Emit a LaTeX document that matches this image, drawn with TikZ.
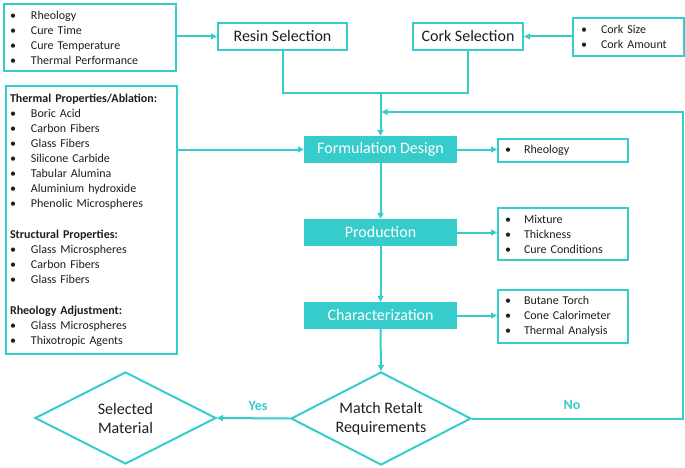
\documentclass[tikz,border=0pt]{standalone}
\usepackage{fontspec}
\setmainfont{Carlito}
\usetikzlibrary{shapes.geometric,arrows.meta}
\definecolor{teal}{RGB}{54,204,204}
\definecolor{txt}{RGB}{30,30,30}
\newcommand{\itm}[2][21pt]{\makebox[#1][l]{\textbullet}#2}
\tikzset{
  box/.style={draw=teal, line width=2pt, fill=white, inner sep=0pt, text=txt},
  listbox/.style={box, anchor=north west, align=left, inner ysep=0pt,
    font=\fontsize{12}{15}\selectfont},
  selbox/.style={box, minimum height=27pt, font=\fontsize{16}{19}\selectfont},
  tealbox/.style={fill=teal, draw=none, text=white, minimum width=153pt,
    minimum height=27pt, inner sep=0pt, font=\fontsize{16}{19}\selectfont},
  dia/.style={diamond, aspect=2, draw=teal, line width=2pt, inner sep=0pt,
    text=txt, align=center, font=\fontsize{16}{19}\selectfont},
  conn/.style={draw=teal, line width=2pt},
  arr/.style={conn, -{Triangle[length=6pt,width=6pt]}},
  lbl/.style={text=teal, font=\fontsize{14}{17}\selectfont\bfseries}
}
\begin{document}
\begin{tikzpicture}[x=1pt,y=-1pt]
\useasboundingbox (0,0) rectangle (685,468);
% top left list
\node[listbox, inner xsep=6pt, text width=160pt, minimum height=67pt] (tl) at (3,3)
  {\itm{Rheology}\\ \itm{Cure Time}\\ \itm{Cure Temperature}\\ \itm{Thermal Performance}};
% selections
\node[selbox, minimum width=129pt] (resin) at (282.5,36.5) {Resin Selection};
\node[selbox, minimum width=110pt] (cork) at (468,36.5) {Cork Selection};
\node[listbox, inner xsep=8pt, text width=95pt, minimum height=38pt] (cl) at (572,17)
  {\itm[20pt]{Cork Size}\\ \itm[20pt]{Cork Amount}};
% big left list
\node[listbox, inner xsep=4pt, text width=163pt, minimum height=268pt] (big) at (5,85)
  {\textbf{Thermal Properties/Ablation:}\\ \itm{Boric Acid}\\ \itm{Carbon Fibers}\\
   \itm{Glass Fibers}\\ \itm{Silicone Carbide}\\ \itm{Tabular Alumina}\\
   \itm{Aluminium hydroxide}\\ \itm{Phenolic Microspheres}\\[16pt]
   \textbf{Structural Properties:}\\ \itm{Glass Microspheres}\\ \itm{Carbon Fibers}\\
   \itm{Glass Fibers}\\[16pt]
   \textbf{Rheology Adjustment:}\\ \itm{Glass Microspheres}\\ \itm{Thixotropic Agents}};
% teal process boxes
\node[tealbox] (form) at (380.5,149.5) {Formulation Design};
\node[tealbox] (prod) at (380.5,232.5) {Production};
\node[tealbox] (char) at (380.5,315.5) {Characterization};
% right lists
\node[listbox, inner xsep=7pt, text width=116pt, minimum height=23pt] (rl) at (497,138)
  {\itm[19pt]{Rheology}};
\node[listbox, inner xsep=7pt, text width=116pt, minimum height=52pt] (pl) at (497,207)
  {\itm[19pt]{Mixture}\\ \itm[19pt]{Thickness}\\ \itm[19pt]{Cure Conditions}};
\node[listbox, inner xsep=7pt, text width=116pt, minimum height=53pt] (chl) at (497,289)
  {\itm[19pt]{Butane Torch}\\ \itm[19pt]{Cone Calorimeter}\\ \itm[19pt]{Thermal Analysis}};
% diamonds
\node[dia, minimum width=181pt, minimum height=92pt] (sel) at (125.5,418) {Selected\\Material};
\node[dia, minimum width=180pt, minimum height=93pt] (match) at (381,418.5) {Match Retalt\\Requirements};
% labels
\node[lbl] (yes) at (258,406) {Yes};
\node[lbl] (no) at (572,405) {No};
% coordinates
\coordinate (j) at (380.5,93);
\coordinate (fbr) at (683,112);
\coordinate (fbl) at (381.5,112);
% connectors
\draw[arr] (tl.east |- resin.west) -- (resin.west);
\draw[arr] (cl.west |- cork.east) -- (cork.east);
\draw[conn] (resin.south) |- (j) -| (cork.south);
\draw[arr] (j) -- (form.north);
\draw[arr] (big.east |- form.west) -- (form.west);
\draw[arr] (form.east) -- (rl.west |- form.east);
\draw[arr] (prod.east) -- (pl.west |- prod.east);
\draw[arr] (char.east) -- (chl.west |- char.east);
\draw[arr] (form.south) -- (prod.north);
\draw[arr] (prod.south) -- (char.north);
\draw[arr] (char.south) -- (match.north);
\draw[arr] (match.west) -- (sel.east);
\draw[arr] (match.east) -| (fbr) -- (fbl);
\end{tikzpicture}
\end{document}
